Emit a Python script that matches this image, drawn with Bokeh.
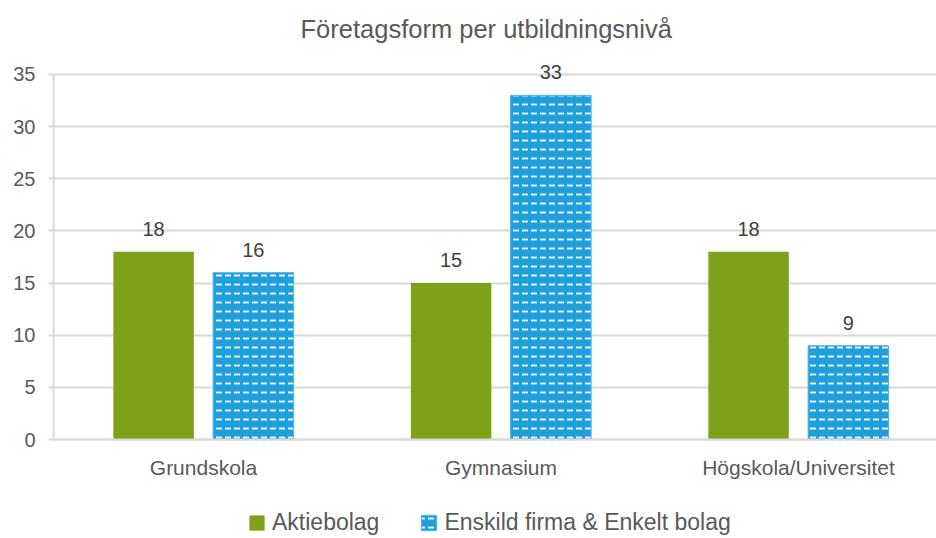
from bokeh.plotting import figure
from bokeh.models import (ColumnDataSource, LabelSet, Legend, LegendItem,
                          FixedTicker, Title, LinearAxis)
from bokeh.core.properties import value
from bokeh.embed import file_html
from bokeh.resources import INLINE

categories = ["Grundskola", "Gymnasium", "Högskola/Universitet"]
aktiebolag = [18, 15, 18]
enskild = [16, 33, 9]
series_names = ["Aktiebolag", "Enskild firma & Enkelt bolag"]
y_ticks = [0, 5, 10, 15, 20, 25, 30, 35]
title_text = "Företagsform per utbildningsnivå"

GREEN = "#7ea11a"
BLUE = "#1fa0dc"
TXT = "#595959"
GRID = "#d9d9d9"
FONT = "Liberation Sans"

idx = list(range(len(categories)))
off = 0.1677
bw = 0.2706

src_a = ColumnDataSource(dict(x=[i - off for i in idx], top=aktiebolag,
                              lab=[str(v) for v in aktiebolag]))
src_e = ColumnDataSource(dict(x=[i + off for i in idx], top=enskild,
                              lab=[str(v) for v in enskild]))

p = figure(width=936, height=538, output_backend="svg", toolbar_location=None,
           x_range=(-0.5042, 2.464), y_range=(-9.49, 37.876),
           x_axis_location=None,
           min_border_left=53, min_border_right=0, min_border_top=44,
           min_border_bottom=0)
p.outline_line_color = None
p.background_fill_color = "white"
p.border_fill_color = "white"

t = Title(text=title_text, align="left", offset=247, text_font=FONT,
          text_font_size="25.5px", text_font_style="normal", text_color=TXT,
          vertical_align="top", standoff=0)
p.add_layout(t, "above")

ra = p.vbar(x="x", top="top", width=bw, source=src_a, fill_color=GREEN,
            line_color=None)
re = p.vbar(x="x", top="top", width=bw, source=src_e, fill_color=BLUE,
            line_color="#4db3e6", line_width=1,
            hatch_pattern="horizontal_dash", hatch_color="white",
            hatch_scale=9, hatch_weight=1.8)

for s in (src_a, src_e):
    p.add_layout(LabelSet(x="x", y="top", text="lab", source=s,
                          text_align="center", text_baseline="middle",
                          y_offset=23, text_font=value(FONT),
                          text_font_size=value("20px"),
                          text_color="#404040"))

# category axis drawn at y = 0
xaxis = LinearAxis(fixed_location=0, ticker=FixedTicker(ticks=idx),
                   major_label_overrides={i: c for i, c in zip(idx, categories)})
xaxis.major_tick_line_color = None
xaxis.minor_tick_line_color = None
xaxis.axis_line_color = GRID
xaxis.axis_line_width = 2
xaxis.major_label_text_font = FONT
xaxis.major_label_text_font_size = "21px"
xaxis.major_label_text_color = TXT
xaxis.major_label_standoff = 10
p.add_layout(xaxis, "below")

p.yaxis.ticker = FixedTicker(ticks=y_ticks)
p.yaxis.bounds = (0, 35)
p.yaxis.axis_line_color = GRID
p.yaxis.axis_line_width = 2
p.yaxis.major_tick_line_color = GRID
p.yaxis.major_tick_line_width = 2
p.yaxis.major_tick_out = 5
p.yaxis.major_tick_in = 0
p.yaxis.minor_tick_line_color = None
p.yaxis.major_label_text_font = FONT
p.yaxis.major_label_text_font_size = "20px"
p.yaxis.major_label_text_color = TXT
p.yaxis.major_label_standoff = 13

p.xgrid.grid_line_color = None
p.ygrid.grid_line_color = GRID
p.ygrid.grid_line_width = 2

legend = Legend(items=[LegendItem(label=series_names[0], renderers=[ra]),
                       LegendItem(label=series_names[1], renderers=[re])],
                orientation="horizontal", location=(194, 2),
                label_text_font=FONT, label_text_font_size="23px",
                label_text_color=TXT, glyph_width=19, glyph_height=19,
                label_height=19, label_text_baseline="middle",
                label_standoff=6, spacing=40, border_line_color=None,
                background_fill_alpha=0, padding=0, margin=0)
p.add_layout(legend, "center")

open("out.html", "w").write(file_html(p, INLINE))
